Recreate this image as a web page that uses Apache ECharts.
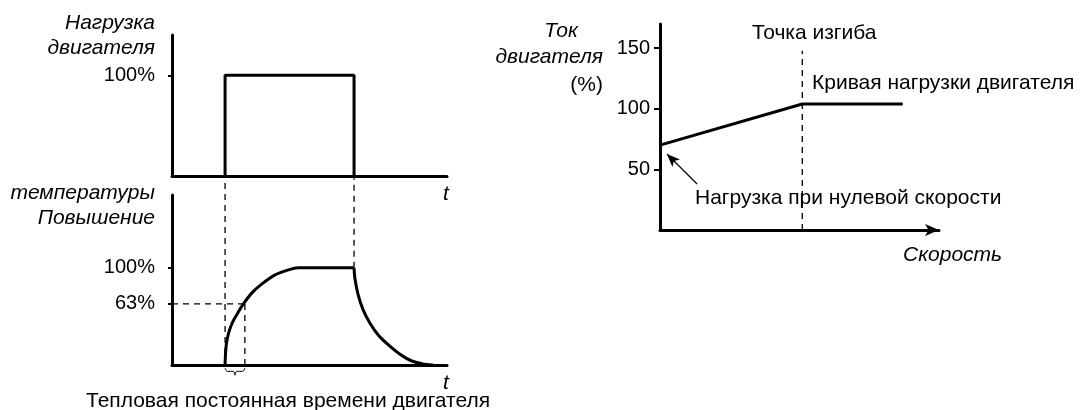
<!DOCTYPE html>
<html><head><meta charset="utf-8">
<script src="https://cdn.jsdelivr.net/npm/echarts@6/dist/echarts.min.js"></script>
<style>html,body{margin:0;padding:0;background:#fff}#c{width:1080px;height:410px}</style>
</head><body><div id="c"></div>
<script>
// ---- data ----
const loadT = [19.3, 19.3, 66.2, 66.2];
const loadPct = [0, 100, 100, 0];
const heatUpT = [19.3, 19.7, 20.6, 22.0, 23.6, 25.9, 29.0, 32.6, 37.5, 42.3, 45.9, 66.2];
const heatUpPct = [0, 20, 33, 44, 52, 62.6, 74, 83.2, 92.8, 97.9, 100, 100];
const coolT = [66.2, 66.5, 67.7, 69.5, 72.0, 75.0, 78.7, 82.9, 87.2, 92.0, 95.0];
const coolPct = [100, 89.4, 72.2, 56.7, 43, 30.9, 20.6, 11, 4.1, 0.7, 0];
const timeConstT = 26.5;
const timeConstPct = 63;
const loadTicks = [100];
const heatTicks = [63, 100];
const currentTicks = [50, 100, 150];
const speed = [0, 51, 87];
const currentPct = [70, 104, 104];
const kneeSpeed = 51;
const kneeLineTop = 148;
const zeroArrowFrom = [13.3, 38];
const zeroArrowTo = [2.5, 62.7];

const texts = {
  loadName: ['Нагрузка', 'двигателя'],
  heatName: ['температуры', 'Повышение'],
  t: 't',
  timeConst: 'Тепловая постоянная времени двигателя',
  currentName: ['Ток', 'двигателя', '(%)'],
  knee: 'Точка изгиба',
  curve: 'Кривая нагрузки двигателя',
  zero: 'Нагрузка при нулевой скорости',
  speed: 'Скорость'
};

// ---- layout ----
const FONT = '"Liberation Sans", Arial, sans-serif';
const G = [
  {left: 172, top: 35, width: 275, height: 141},
  {left: 172, top: 195, width: 275, height: 170},
  {left: 660, top: 24, width: 279, height: 206}
];
const yMax = [140, 175, 170];
// value (bottom-grid units) at the top panel's baseline, for the connector guides
const connTop = yMax[1] * ((G[1].top + G[1].height) - (G[0].top + G[0].height)) / G[1].height;

const zip = (a, b) => a.map((v, i) => [v, b[i]]);
const lab = {fontSize: 20, fontFamily: FONT, color: '#000'};
const axisLineStyle = {color: '#000', width: 3};
const dash = {color: '#000', width: 1.3, type: [6, 5]};

function xAx(i, arrow) {
  return {type: 'value', gridIndex: i, min: 0, max: 100,
    axisLine: {show: true, onZero: false, lineStyle: axisLineStyle,
      symbol: arrow ? ['none', 'arrow'] : 'none', symbolSize: [9, 14]},
    axisTick: {show: false}, axisLabel: {show: false}, splitLine: {show: false}};
}
function yAx(i, ticks, fmt, margin, tickOut) {
  return {type: 'value', gridIndex: i, min: 0, max: yMax[i],
    axisLine: {show: true, onZero: false, lineStyle: axisLineStyle},
    axisTick: {show: tickOut, inside: false, length: 4, lineStyle: {color: '#000', width: 2}, customValues: ticks},
    axisLabel: Object.assign({customValues: ticks, formatter: fmt, margin: margin}, lab),
    splitLine: {show: false}};
}
function yAxIn(i, ticks, len) {
  return {type: 'value', gridIndex: i, min: 0, max: yMax[i],
    axisLine: {show: false}, axisLabel: {show: false}, splitLine: {show: false},
    axisTick: {show: true, inside: true, length: len, lineStyle: {color: '#000', width: 2}, customValues: ticks}};
}

const solid = {color: '#000', width: 3};
function line(x, y, data, extra) {
  return Object.assign({type: 'line', xAxisIndex: x, yAxisIndex: y, data: data, symbol: 'none',
    itemStyle: {color: '#000'}, lineStyle: solid, silent: true, animation: false, clip: false}, extra || {});
}

function txt(t, x, y, align, italic, size) {
  return {type: 'text', x: x, y: y, silent: true,
    style: {text: t, fill: '#000', fontSize: size || 21, fontFamily: FONT, fontStyle: italic ? 'italic' : 'normal',
      align: align, verticalAlign: 'middle'}};
}

const bt = connTop;
const braceMid = (loadT[0] + timeConstT) / 2;
const option = {
  animation: false,
  grid: G.map(g => Object.assign({containLabel: false}, g)),
  xAxis: [xAx(0, false), xAx(1, false), xAx(2, true)],
  yAxis: [
    yAx(0, loadTicks, '{value}%', 17, true),
    yAx(1, heatTicks, '{value}%', 17, true),
    yAx(2, currentTicks, '{value}', 10, false),
    yAxIn(0, loadTicks, 4),
    yAxIn(1, heatTicks, 4),
    yAxIn(2, currentTicks, 6)
  ],
  series: [
    line(0, 0, zip(loadT, loadPct)),
    line(1, 1, zip(heatUpT, heatUpPct), {smooth: 0.35}),
    line(1, 1, zip(coolT, coolPct), {smooth: 0.35}),
    // dashed guides
    line(1, 1, [[loadT[0], 0], [loadT[0], bt]], {lineStyle: dash}),
    line(1, 1, [[loadT[2], heatUpPct[heatUpPct.length - 1]], [loadT[2], bt]], {lineStyle: dash}),
    line(1, 1, [[0, timeConstPct], [timeConstT, timeConstPct]], {lineStyle: dash}),
    line(1, 1, [[timeConstT, 0], [timeConstT, timeConstPct]], {lineStyle: dash}),
    // brace under the time constant
    line(1, 1, [[loadT[0], -3], [loadT[0] + 0.8, -6.5], [braceMid - 0.6, -6.5],
      [braceMid, -10.5], [braceMid + 0.6, -6.5],
      [timeConstT - 0.8, -6.5], [timeConstT, -3]], {lineStyle: {color: '#000', width: 1}, smooth: 0.4}),
    // right panel
    line(2, 2, zip(speed, currentPct), {
      markLine: {silent: true, animation: false, symbol: ['none', 'arrow'], symbolSize: [8, 13],
        lineStyle: {color: '#000', width: 1.2, type: 'solid'}, label: {show: false},
        data: [[{coord: zeroArrowFrom}, {coord: zeroArrowTo}]]}
    }),
    line(2, 2, [[kneeSpeed, 0], [kneeSpeed, kneeLineTop]], {lineStyle: dash})
  ],
  graphic: [
    txt(texts.loadName[0], 155, 23, 'right', true),
    txt(texts.loadName[1], 155, 48, 'right', true),
    txt(texts.heatName[0], 155, 193, 'right', true),
    txt(texts.heatName[1], 155, 218, 'right', true),
    txt(texts.t, 446, 194, 'center', true),
    txt(texts.t, 446, 383, 'center', true),
    txt(texts.timeConst, 86, 401, 'left', false),
    txt(texts.currentName[0], 561, 31, 'center', true),
    txt(texts.currentName[1], 603, 57, 'right', true),
    txt(texts.currentName[2], 603, 85, 'right', false),
    txt(texts.knee, 752, 33, 'left', false),
    txt(texts.curve, 812, 83, 'left', false),
    txt(texts.zero, 695, 198, 'left', false),
    txt(texts.speed, 903, 255, 'left', true)
  ]
};
const chart = echarts.init(document.getElementById('c'), null, {renderer: 'canvas'});
chart.setOption(option);
</script></body></html>
